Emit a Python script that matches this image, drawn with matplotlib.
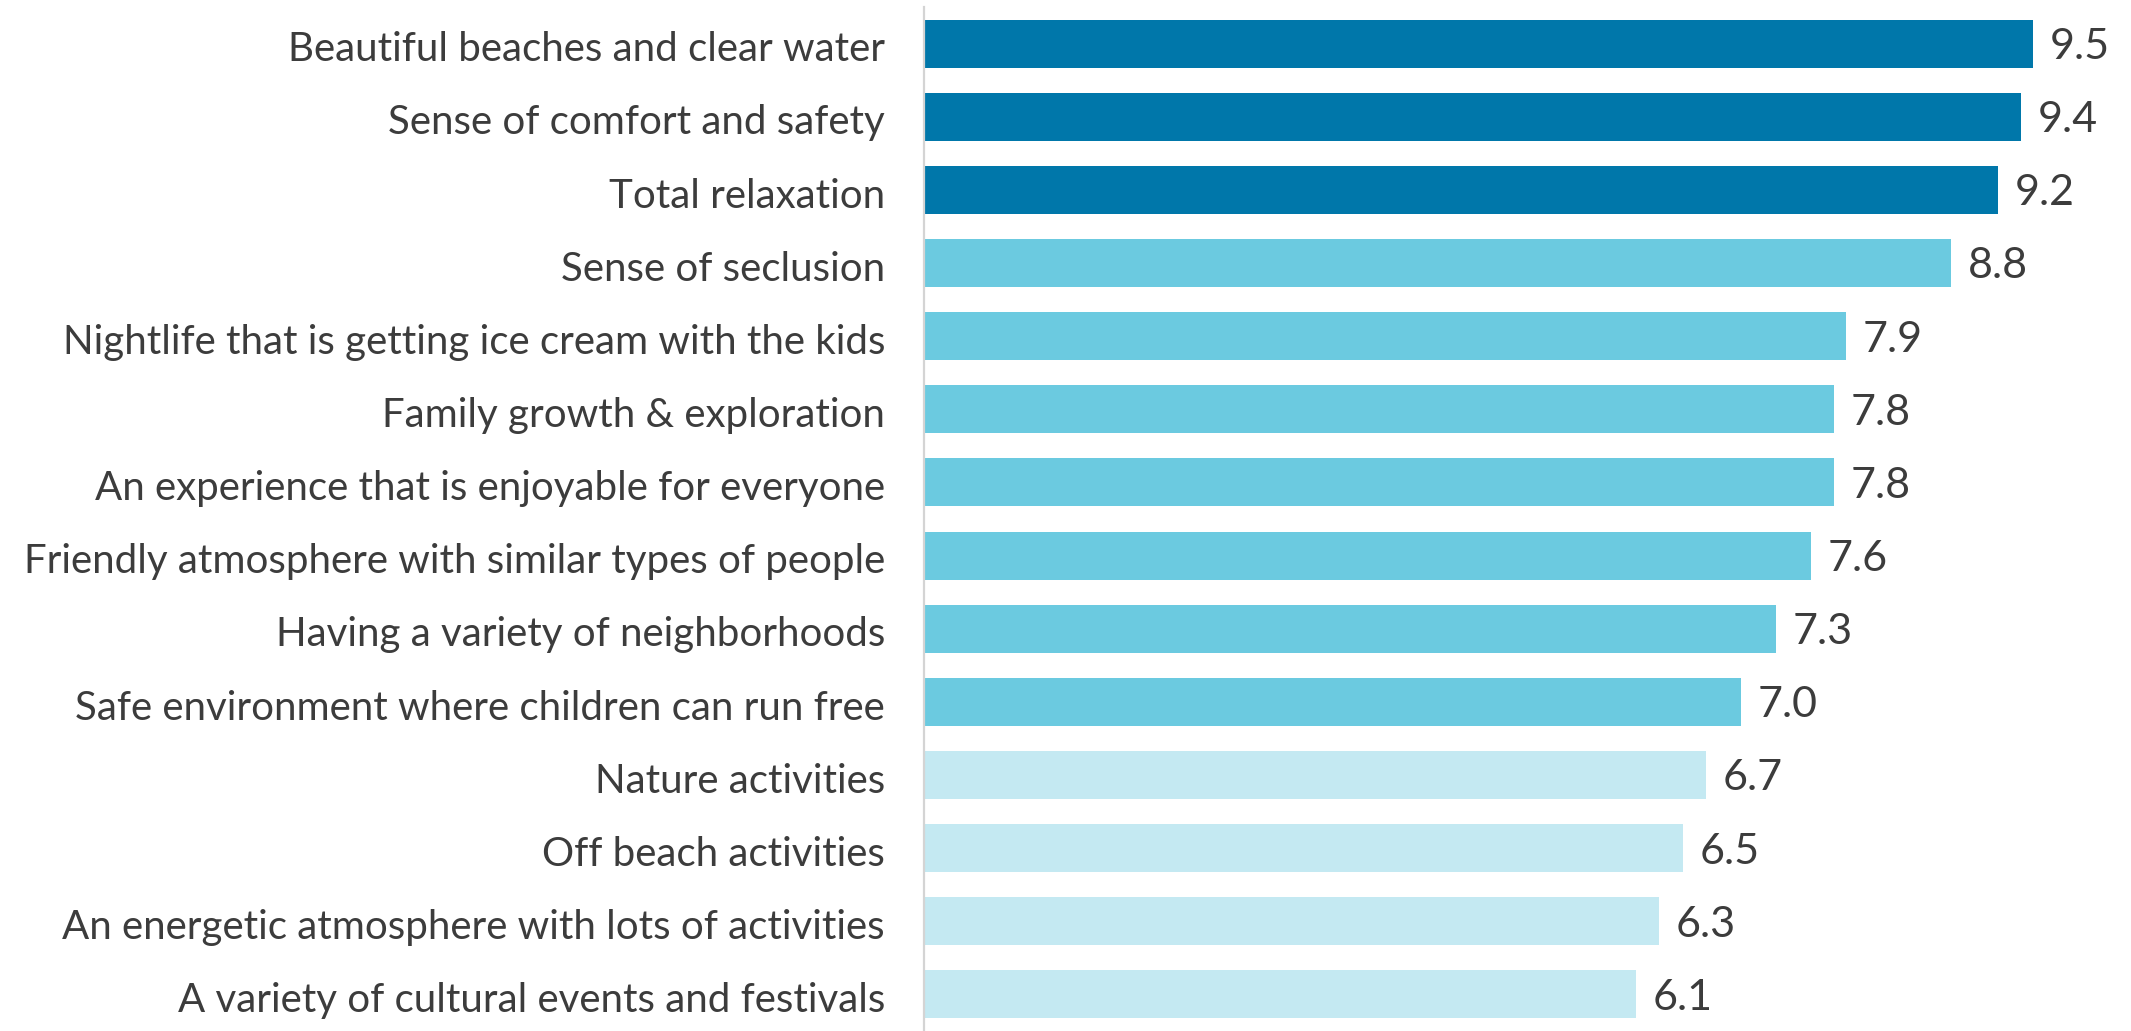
import matplotlib
matplotlib.use("Agg")
import matplotlib.pyplot as plt
from matplotlib.transforms import ScaledTranslation

categories = [
    "Beautiful beaches and clear water",
    "Sense of comfort and safety",
    "Total relaxation",
    "Sense of seclusion",
    "Nightlife that is getting ice cream with the kids",
    "Family growth & exploration",
    "An experience that is enjoyable for everyone",
    "Friendly atmosphere with similar types of people",
    "Having a variety of neighborhoods",
    "Safe environment where children can run free",
    "Nature activities",
    "Off beach activities",
    "An energetic atmosphere with lots of activities",
    "A variety of cultural events and festivals",
]
scores = [9.5, 9.4, 9.2, 8.8, 7.9, 7.8, 7.8, 7.6, 7.3, 7.0, 6.7, 6.5, 6.3, 6.1]
tiers = ["top"] * 3 + ["mid"] * 7 + ["low"] * 4

tier_colors = {"top": "#0077AA", "mid": "#6BCAE0", "low": "#C4E9F2"}
text_color = "#3C3C3C"
font = "Lato"

fig = plt.figure(figsize=(21.31, 10.31), dpi=100)
ax = fig.add_axes([924 / 2131, 0.0, 1 - 924 / 2131, 1 - 7 / 1031])

y = list(range(len(categories)))
ax.barh(y, scores, height=0.655, color=[tier_colors[t] for t in tiers])

ax.set_ylim(len(categories) - 0.5, -0.5)
ax.set_xlim(0, 1207 / 116.7)

for yi, v in zip(y, scores):
    ax.annotate(f"{v:.1f}", xy=(v, yi), xytext=(12, -2.5), textcoords="offset points",
                ha="left", va="center", fontsize=31, color=text_color,
                family=font, fontweight="normal")

ax.set_yticks(y)
ax.set_yticklabels(categories, fontsize=29, color=text_color,
                   family=font, fontweight="normal")
ax.tick_params(axis="y", length=0, pad=28)
ax.set_xticks([])

# nudge the category labels slightly downward
shift = ScaledTranslation(0, -2 / 72, fig.dpi_scale_trans)
for lbl in ax.get_yticklabels():
    lbl.set_transform(lbl.get_transform() + shift)

for side in ("top", "right", "bottom"):
    ax.spines[side].set_visible(False)
ax.spines["left"].set_color("#D4D4D4")
ax.spines["left"].set_linewidth(1.6)

fig.savefig("out.png", dpi=100, facecolor="white")
